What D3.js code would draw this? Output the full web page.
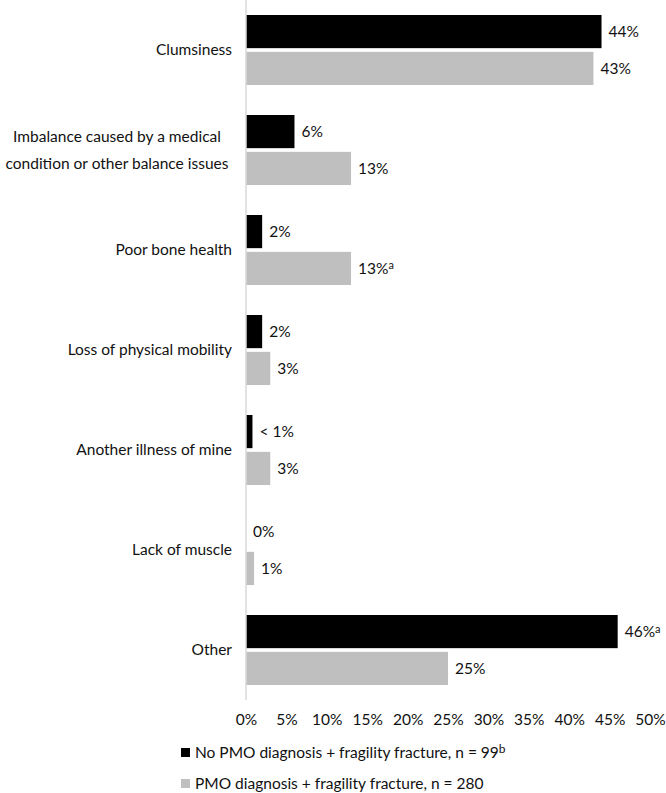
<!DOCTYPE html>
<html>
<head>
<meta charset="utf-8">
<script src="https://cdn.jsdelivr.net/npm/d3@7"></script>
<style>
  body { margin: 0; background: #fff; }
  svg text { font-family: Lato, "Open Sans", sans-serif; fill: #111; }
</style>
</head>
<body>
<svg id="chart" width="666" height="793"></svg>
<script>
// categories, top to bottom
var categories = [
    ["Clumsiness"],
    ["Imbalance caused by a medical", "condition or other balance issues"],
    ["Poor bone health"],
    ["Loss of physical mobility"],
    ["Another illness of mine"],
    ["Lack of muscle"],
    ["Other"]
];
var seriesNames = ["No PMO diagnosis + fragility fracture, n = 99", "PMO diagnosis + fragility fracture, n = 280"];
var seriesSup = ["b", ""];
var noPmoValues = [44, 6, 2, 2, 0.8, 0, 46];
var pmoValues = [43, 13, 13, 3, 3, 1, 25];
var noPmoLabels = ["44%", "6%", "2%", "2%", "< 1%", "0%", "46%"];
var pmoLabels = ["43%", "13%", "13%", "3%", "3%", "1%", "25%"];
var noPmoSup = ["", "", "", "", "", "", "a"];
var pmoSup = ["", "", "a", "", "", "", ""];
var xTicks = [0, 5, 10, 15, 20, 25, 30, 35, 40, 45, 50];

var colors = ["#000000", "#bfbfbf"];

var svg = d3.select("#chart"),
    plot = { left: 246, right: 650, top: 0, bottom: 700 },
    fontSize = 15.5;

var x = d3.scaleLinear().domain([0, 50]).range([plot.left, plot.right]);
var y = d3.scaleBand()
    .domain(d3.range(categories.length))
    .range([plot.top, plot.bottom])
    .paddingInner(0.3).paddingOuter(0.15);
var ySub = d3.scaleBand().domain([0, 1]).range([0, y.bandwidth()]).paddingInner(0.1);

var rows = categories.map(function (c, i) {
    return {
        i: i, lines: c,
        bars: [
            { s: 0, v: noPmoValues[i], label: noPmoLabels[i], sup: noPmoSup[i] },
            { s: 1, v: pmoValues[i], label: pmoLabels[i], sup: pmoSup[i] }
        ]
    };
});

// bars
var groups = svg.append("g").selectAll("g")
    .data(rows)
    .join("g")
    .attr("transform", function (d) { return "translate(0," + y(d.i) + ")"; });

groups.selectAll("rect")
    .data(function (d) { return d.bars; })
    .join("rect")
    .attr("x", x(0))
    .attr("y", function (b) { return ySub(b.s); })
    .attr("width", function (b) { return x(b.v) - x(0); })
    .attr("height", ySub.bandwidth())
    .attr("fill", function (b) { return colors[b.s]; });

// value labels
var vl = groups.selectAll("text.val")
    .data(function (d) { return d.bars; })
    .join("text")
    .attr("class", "val")
    .attr("x", function (b) { return x(b.v) + 7; })
    .attr("y", function (b) { return ySub(b.s) + ySub.bandwidth() / 2; })
    .attr("dy", "0.35em")
    .attr("font-size", fontSize);
vl.append("tspan").text(function (b) { return b.label; });
vl.filter(function (b) { return b.sup; })
    .append("tspan")
    .attr("dy", "-0.4em")
    .attr("font-size", 11)
    .text(function (b) { return b.sup; });

// axis line
svg.append("line")
    .attr("x1", x(0)).attr("x2", x(0))
    .attr("y1", plot.top).attr("y2", plot.bottom)
    .attr("stroke", "#d9d9d9").attr("stroke-width", 1.5);

// category labels
groups.each(function (d) {
    var g = d3.select(this), cy = y.bandwidth() / 2, n = d.lines.length;
    if (n === 1) {
        g.append("text")
            .attr("x", 232).attr("y", cy).attr("dy", "0.35em")
            .attr("text-anchor", "end").attr("font-size", fontSize)
            .text(d.lines[0]);
    } else {
        var t = g.append("text").attr("font-size", fontSize).attr("text-anchor", "middle");
        d.lines.forEach(function (line, k) {
            t.append("tspan").attr("x", 117).attr("y", cy + (k - (n - 1) / 2) * 27)
                .attr("dy", "0.35em").text(line);
        });
    }
});

// x axis ticks
var xAxis = svg.append("g")
    .attr("transform", "translate(0," + (plot.bottom + 20) + ")")
    .call(d3.axisBottom(x).tickValues(xTicks).tickSize(0).tickFormat(function (d) { return d + "%"; }));
xAxis.select(".domain").remove();
xAxis.selectAll("text").attr("font-size", fontSize).attr("dy", "0.35em").attr("y", 0)
    .attr("font-family", "Lato, 'Open Sans', sans-serif").attr("fill", "#111");

// legend
var legend = svg.append("g").selectAll("g")
    .data(seriesNames)
    .join("g")
    .attr("transform", function (d, i) { return "translate(181," + (753 + i * 31) + ")"; });
legend.append("rect")
    .attr("x", 0).attr("y", -5).attr("width", 9).attr("height", 9)
    .attr("fill", function (d, i) { return colors[i]; });
var lt = legend.append("text")
    .attr("x", 14).attr("y", 0).attr("dy", "0.35em").attr("font-size", fontSize);
lt.append("tspan").text(function (d) { return d; });
lt.filter(function (d, i) { return seriesSup[i]; })
    .append("tspan").attr("dy", "-0.45em").attr("font-size", 12)
    .text(function (d, i) { return seriesSup[i]; });
</script>
</body>
</html>
